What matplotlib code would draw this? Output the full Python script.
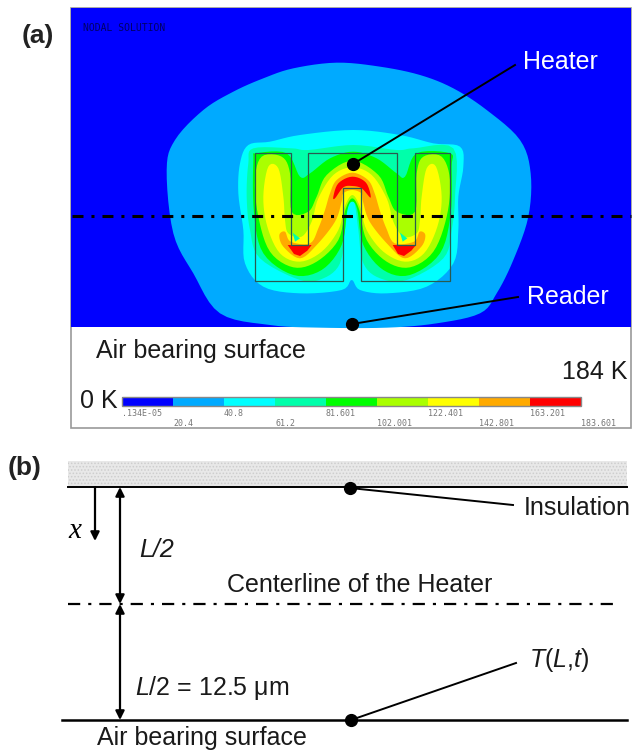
import matplotlib
matplotlib.use("Agg")
import matplotlib.pyplot as plt
import numpy as np
from matplotlib.patches import Polygon, Rectangle

plt.rcParams['font.family'] = ['Liberation Sans', 'DejaVu Sans']
plt.rcParams['hatch.linewidth'] = 0.7
plt.rcParams['mathtext.fontset'] = 'custom'
plt.rcParams['mathtext.rm'] = 'Liberation Sans'
plt.rcParams['mathtext.it'] = 'Liberation Sans:italic'

# colour scale of the temperature plot
level_colors = ['#0000ff', '#00aaff', '#00ffff', '#00ffaa', '#00ff00',
                '#aaff00', '#ffff00', '#ffaa00', '#ff0000']
odd_ticks = ['.134E-05', '40.8', '81.601', '122.401', '163.201']
even_ticks = ['20.4', '61.2', '102.001', '142.801', '183.601']

blob = [(140, 330), (165, 240), (250, 150), (340, 95), (430, 55), (520, 25), (650, 8), (780, 20),
        (900, 45), (1000, 85), (1100, 150), (1200, 240), (1232, 340), (1225, 470), (1180, 600),
        (1130, 700), (1080, 760), (950, 790), (800, 803), (600, 803), (450, 795), (300, 760),
        (220, 640), (160, 520)]

cyan = [(60, 100), (85, 45), (150, 35), (240, 15), (400, 0), (540, 15), (640, 40), (720, 50),
        (730, 110), (715, 200), (715, 300), (700, 400), (620, 470), (500, 490), (420, 480),
        (395, 450), (365, 480), (240, 490), (130, 470), (75, 400), (70, 300), (55, 190)]
teal = [(85, 100), (100, 55), (215, 55), (265, 60), (400, 45), (530, 60), (580, 55), (700, 55),
        (705, 200), (695, 300), (670, 385), (560, 450), (480, 445), (430, 400), (415, 300), (405, 225),
        (395, 210), (385, 225), (375, 300), (360, 400), (310, 445), (240, 450), (120, 385), (90, 300), (80, 200)]
green = [(100, 90), (110, 70), (200, 70), (240, 140), (270, 130), (330, 85), (400, 65), (470, 85),
         (530, 130), (555, 140), (590, 70), (690, 70), (695, 110), (692, 250), (660, 370),
         (570, 435), (490, 420), (430, 345), (412, 240), (397, 215), (382, 240), (365, 345),
         (305, 420), (220, 435), (130, 370), (102, 250)]
lime = [(105, 150), (125, 80), (185, 80), (210, 130), (215, 245), (265, 245), (290, 200), (320, 135),
        (397, 92), (475, 135), (505, 200), (530, 245), (585, 245), (590, 130), (610, 80), (665, 80),
        (690, 150), (680, 260), (640, 365), (570, 412), (500, 395), (440, 330), (418, 240), (397, 205),
        (376, 240), (355, 330), (290, 395), (220, 412), (150, 365), (115, 260)]
yellow = [(130, 200), (145, 110), (175, 115), (190, 200), (195, 270), (205, 310), (245, 320), (275, 275),
          (295, 205), (340, 135), (397, 112), (455, 135), (500, 205), (520, 275), (550, 320), (590, 310),
          (600, 270), (605, 200), (620, 115), (648, 110), (665, 200), (652, 290), (612, 370), (555, 395),
          (490, 365), (440, 300), (420, 230), (397, 195), (374, 230), (355, 300), (305, 365), (240, 395),
          (180, 370), (142, 290)]
orange = [(178, 315), (195, 305), (212, 335), (270, 340), (295, 295), (315, 240), (330, 190), (350, 150),
          (397, 128), (444, 150), (464, 190), (479, 240), (499, 295), (524, 340), (582, 335), (599, 305),
          (616, 315), (604, 350), (555, 385), (505, 345), (449, 275), (429, 215), (424, 190), (397, 180),
          (370, 190), (365, 215), (345, 275), (290, 345), (240, 385), (190, 350)]
red_top = [(340, 200), (355, 160), (397, 140), (438, 158), (452, 203), (425, 175), (397, 168), (370, 172), (345, 205)]
red_left = [(203, 345), (275, 345), (262, 362), (240, 378), (222, 372)]
red_right = [(518, 345), (588, 345), (574, 362), (552, 378), (534, 372)]
spot_left = [(218, 308), (240, 325), (225, 335)]
spot_right = [(540, 308), (562, 325), (548, 335)]
heater = [(104, 70), (212, 70), (212, 345), (265, 345), (265, 70), (530, 70), (530, 345), (585, 345),
          (585, 70), (690, 70), (690, 453), (424, 453), (424, 173), (370, 173), (370, 453), (104, 453)]


def from_crop(pts, x0=220, y0=130):
    pts = np.array(pts, dtype=float)
    return np.c_[x0 + pts[:, 0] / 3, y0 + pts[:, 1] / 3]


def smooth(pts, n=6):
    # closed catmull-rom through the read points
    p1 = np.array(pts, dtype=float)
    p0, p2, p3 = np.roll(p1, 1, axis=0), np.roll(p1, -1, axis=0), np.roll(p1, -2, axis=0)
    out = []
    for t in np.linspace(0, 1, n, endpoint=False):
        out.append(0.5 * (2 * p1 + (p2 - p0) * t + (2 * p0 - 5 * p1 + 4 * p2 - p3) * t ** 2
                          + (3 * p1 - p0 - 3 * p2 + p3) * t ** 3))
    return np.stack(out, axis=1).reshape(-1, 2)


def dot_leader(ax, x0, y0, x1, y1):
    ax.plot([x0, x1], [y0, y1], color='k', lw=1.4, zorder=6)
    ax.plot(x0, y0, 'o', color='k', ms=8.5, zorder=7)


def arrow(ax, x, y0, y1, style='-|>'):
    ax.annotate('', xy=(x, y1), xytext=(x, y0),
                arrowprops=dict(arrowstyle=style, color='k', lw=1.6, shrinkA=0, shrinkB=0,
                                mutation_scale=13), zorder=6)


fig = plt.figure(figsize=(6.36, 7.51), dpi=100)
ax = fig.add_axes([0, 0, 1, 1])
ax.set_xlim(0, 636)
ax.set_ylim(751, 0)
ax.axis('off')

txt = dict(fontsize=18, va='center', color='#1a1a1a')
dashdot = (0, (5.5, 3.6, 1.4, 3.6))

# panel a
ax.add_patch(Rectangle((71, 8), 560, 420, fc='white', ec='#999999', lw=1.2, zorder=0))
ax.add_patch(Rectangle((71, 8), 560, 319, fc=level_colors[0], ec='none', zorder=1))
ax.add_patch(Polygon(smooth(from_crop(blob, 120, 60)), fc=level_colors[1], ec='none', zorder=2))
for pts, col in [(cyan, 2), (teal, 3), (green, 4), (lime, 5), (yellow, 6), (orange, 7)]:
    ax.add_patch(Polygon(smooth(from_crop(pts)), fc=level_colors[col], ec='none', zorder=3))
for pts in [spot_left, spot_right]:
    ax.add_patch(Polygon(from_crop(pts), fc=level_colors[3], ec='none', zorder=3))
ax.add_patch(Polygon(smooth(from_crop(red_top)), fc=level_colors[8], ec='none', zorder=3))
for pts in [red_left, red_right]:
    ax.add_patch(Polygon(from_crop(pts), fc=level_colors[8], ec='none', zorder=3))
ax.add_patch(Polygon(from_crop(heater), fc='none', ec='#2a5a50', lw=0.9, zorder=4))

ax.plot([72, 631], [216, 216], color='k', lw=2.2, ls=(0, (3.6, 2.6, 1, 2.6)), zorder=5)
dot_leader(ax, 353, 164, 515, 65)
dot_leader(ax, 352, 324, 518, 297)

ax.text(22, 36, '(a)', fontsize=19, fontweight='bold', va='center', color='#222222')
ax.text(83, 28, 'NODAL SOLUTION', fontsize=7, family='DejaVu Sans Mono', color='#000066', va='center', zorder=5)
ax.text(523, 62, 'Heater', fontsize=18, color='white', va='center', zorder=8)
ax.text(527, 297, 'Reader', fontsize=18, color='white', va='center', zorder=8)
ax.text(96, 351, 'Air bearing surface', **txt)
ax.text(627, 372, '184 K', ha='right', **txt)
ax.text(80, 401, '0 K', **txt)

# colour bar
bar_x = np.linspace(122, 581, len(level_colors) + 1)
for i, col in enumerate(level_colors):
    ax.add_patch(Rectangle((bar_x[i], 397), bar_x[i + 1] - bar_x[i], 9, fc=col, ec='none', zorder=2))
ax.add_patch(Rectangle((122, 397), 459, 9, fc='none', ec='#888888', lw=1, zorder=3))
for lab, x in zip(odd_ticks, bar_x[0::2]):
    ax.text(x, 413, lab, fontsize=6, family='DejaVu Sans Mono', color='#777777', va='center')
for lab, x in zip(even_ticks, bar_x[1::2]):
    ax.text(x, 423, lab, fontsize=6, family='DejaVu Sans Mono', color='#777777', va='center')

# panel b
ax.text(8, 468, '(b)', fontsize=19, fontweight='bold', va='center', color='#222222')
ax.add_patch(Rectangle((68, 461), 559, 26, fc='#e8e8e8', ec='#cdcdcd', lw=0, hatch='.....', zorder=1))
ax.plot([68, 627], [487, 487], color='k', lw=1.4, zorder=3)
ax.plot([68, 618], [604, 604], color='k', lw=1.6, ls=dashdot, zorder=3)
ax.plot([62, 627], [720, 720], color='k', lw=1.8, zorder=3)
dot_leader(ax, 350, 488, 513, 505)
dot_leader(ax, 351, 720, 516, 663)
arrow(ax, 95, 487, 541)
arrow(ax, 120, 487, 604, '<|-|>')
arrow(ax, 120, 604, 720, '<|-|>')

ax.text(524, 508, 'Insulation', **txt)
ax.text(68, 531, 'x', fontsize=21, family='Liberation Serif', style='italic', va='center')
ax.text(139, 550, 'L/2', style='italic', **txt)
ax.text(227, 585, 'Centerline of the Heater', **txt)
ax.text(135, 688, r'$\mathit{L/2}$ = 12.5 $\mathrm{\mu}$m', **txt)
ax.text(529, 660, r'$\mathit{T}\mathrm{(}\mathit{L}\mathrm{,}\mathit{t}\mathrm{)}$', **txt)
ax.text(97, 738, 'Air bearing surface', **txt)

fig.savefig('out.png', dpi=100)
